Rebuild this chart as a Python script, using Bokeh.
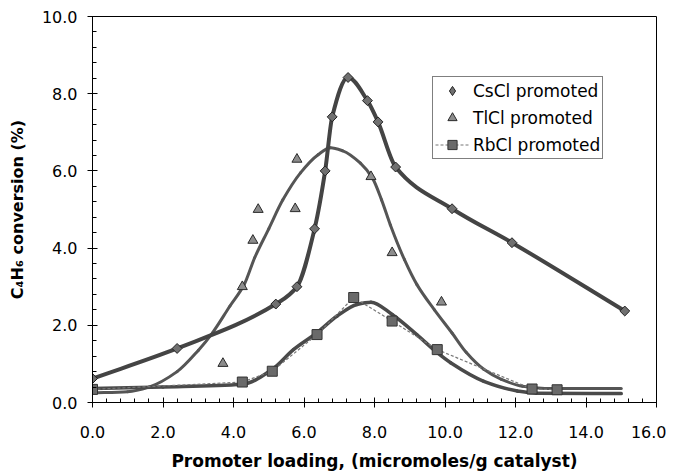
import numpy as np
from bokeh.plotting import figure
from bokeh.models import (ColumnDataSource, Legend, LegendItem, SingleIntervalTicker,
                          PrintfTickFormatter)
from bokeh.embed import file_html
from bokeh.resources import INLINE

# ---- data ----
cs_x = [0.0, 2.4, 5.2, 5.8, 6.3, 6.6, 6.8, 7.25, 7.8, 8.1, 8.6, 10.2, 11.9, 15.1]
cs_y = [0.62, 1.4, 2.55, 3.0, 4.5, 6.0, 7.4, 8.42, 7.82, 7.27, 6.1, 5.02, 4.14, 2.37]

tl_x = [3.7, 4.25, 4.55, 4.7, 5.75, 5.8, 7.9, 8.5, 9.9]
tl_y = [1.01, 3.0, 4.2, 5.0, 5.02, 6.3, 5.85, 3.88, 2.6]

tl_fit_x = [0.0, 1.0, 1.6, 2.4, 3.0, 3.4, 3.9, 4.3, 4.6, 5.0, 5.4, 5.9, 6.4, 6.75, 7.1,
            7.6, 7.95, 8.2, 8.45, 8.85, 9.2, 9.7, 10.2, 10.6, 11.1, 11.6, 12.2, 13.0, 15.0]
tl_fit_y = [0.25, 0.28, 0.4, 0.8, 1.35, 1.8, 2.5, 3.05, 3.75, 4.5, 5.25, 5.95, 6.42, 6.6, 6.52,
            6.2, 5.8, 5.25, 4.6, 3.7, 3.06, 2.4, 1.8, 1.3, 0.86, 0.6, 0.42, 0.36, 0.36]

rb_x = [0.0, 4.25, 5.1, 6.37, 7.41, 8.5, 9.78, 12.47, 13.18]
rb_y = [0.34, 0.53, 0.81, 1.76, 2.72, 2.11, 1.37, 0.35, 0.33]

rb_fit_x = [0.0, 2.0, 4.25, 5.1, 5.7, 6.37, 6.94, 7.5, 7.9, 8.5, 9.2, 9.78, 10.16, 11.1,
            12.05, 12.6, 15.0]
rb_fit_y = [0.36, 0.4, 0.47, 0.86, 1.37, 1.81, 2.24, 2.54, 2.6, 2.28, 1.76, 1.29, 1.03, 0.55,
            0.3, 0.24, 0.23]

labels = ["CsCl promoted", "TlCl promoted", "RbCl promoted"]


def smooth_segments(xs, ys):
    """Monotone cubic (PCHIP) segments expressed as Bezier control points."""
    xs = np.asarray(xs, float)
    ys = np.asarray(ys, float)
    h = np.diff(xs)
    d = np.diff(ys) / h
    n = len(xs)
    m = np.zeros(n)
    m[0], m[-1] = d[0], d[-1]
    for i in range(1, n - 1):
        if d[i - 1] * d[i] <= 0:
            m[i] = 0.0
        else:
            w1 = 2 * h[i] + h[i - 1]
            w2 = h[i] + 2 * h[i - 1]
            m[i] = (w1 + w2) / (w1 / d[i - 1] + w2 / d[i])
    return ColumnDataSource(dict(
        x0=xs[:-1], y0=ys[:-1], x1=xs[1:], y1=ys[1:],
        cx0=xs[:-1] + h / 3, cy0=ys[:-1] + m[:-1] * h / 3,
        cx1=xs[1:] - h / 3, cy1=ys[1:] - m[1:] * h / 3))


p = figure(width=666, height=474, x_range=(0, 16), y_range=(0, 10),
           output_backend="svg", toolbar_location=None,
           min_border_left=92, min_border_right=10, min_border_top=16, min_border_bottom=72)

p.xgrid.grid_line_color = None
p.ygrid.grid_line_color = None
p.outline_line_color = "black"
p.outline_line_width = 1
p.background_fill_color = "white"
p.border_fill_color = "white"

p.xaxis.ticker = SingleIntervalTicker(interval=2, num_minor_ticks=5)
p.yaxis.ticker = SingleIntervalTicker(interval=2, num_minor_ticks=5)
p.xaxis.formatter = PrintfTickFormatter(format="%.1f")
p.yaxis.formatter = PrintfTickFormatter(format="%.1f")

for ax in (p.xaxis[0], p.yaxis[0]):
    ax.axis_line_color = "black"
    ax.major_tick_line_color = "black"
    ax.minor_tick_line_color = "black"
    ax.major_tick_in = 5
    ax.major_tick_out = 5
    ax.minor_tick_in = 4
    ax.minor_tick_out = 0
    ax.major_label_text_font = "DejaVu Sans"
    ax.major_label_text_font_size = "16px"
    ax.major_label_text_color = "black"
    ax.axis_label_text_font = "DejaVu Sans"
    ax.axis_label_text_font_style = "bold"
    ax.axis_label_text_color = "black"

p.xaxis.major_label_standoff = 18
p.yaxis.major_label_standoff = 10
p.xaxis.axis_label = "Promoter loading, (micromoles/g catalyst)"
p.xaxis.axis_label_text_font_size = "17px"
p.xaxis.axis_label_standoff = 10
p.yaxis.axis_label = "C\u2084H\u2086 conversion (%)"
p.yaxis.axis_label_text_font_size = "16px"
p.yaxis.axis_label_standoff = 12

# fitted curves
p.bezier(x0="x0", y0="y0", x1="x1", y1="y1", cx0="cx0", cy0="cy0", cx1="cx1", cy1="cy1",
         source=smooth_segments(tl_fit_x, tl_fit_y), line_color="#555555", line_width=3,
         line_cap="round")
p.bezier(x0="x0", y0="y0", x1="x1", y1="y1", cx0="cx0", cy0="cy0", cx1="cx1", cy1="cy1",
         source=smooth_segments(rb_fit_x, rb_fit_y), line_color="#4a4a4a", line_width=3.5,
         line_cap="round")
rb_dash = p.line(rb_x, rb_y, line_color="#777777", line_width=1.2, line_dash="3 2")
p.bezier(x0="x0", y0="y0", x1="x1", y1="y1", cx0="cx0", cy0="cy0", cx1="cx1", cy1="cy1",
         source=smooth_segments(cs_x, cs_y), line_color="#444444", line_width=4,
         line_cap="round")

# markers
tl_sc = p.scatter(tl_x, tl_y, marker="triangle", size=10, fill_color="#8c8c8c",
                  line_color="#2a2a2a", line_width=1)
rb_sc = p.scatter(rb_x, rb_y, marker="square", size=10, fill_color="#6a6a6a",
                  line_color="#333333", line_width=1)
cs_sc = p.scatter(cs_x, cs_y, marker="square", angle=np.pi / 4, size=7,
                  fill_color="#707070", line_color="#222222", line_width=1)
# legend swatch for the rotated-square (diamond) markers (not drawn in the plot: NaN)
cs_key = p.scatter(x=[np.nan], y=[np.nan], marker="diamond", size=11,
                   fill_color="#707070", line_color="#222222", line_width=1)

legend = Legend(items=[LegendItem(label=labels[0], renderers=[cs_key]),
                       LegendItem(label=labels[1], renderers=[tl_sc]),
                       LegendItem(label=labels[2], renderers=[rb_dash, rb_sc])],
                location=(340, 243))
legend.label_text_font = "DejaVu Sans"
legend.label_text_font_size = "17px"
legend.label_text_color = "black"
legend.border_line_color = "black"
legend.border_line_width = 1
legend.background_fill_alpha = 1
legend.padding = 2
legend.spacing = 4
legend.margin = 0
legend.glyph_width = 34
legend.glyph_height = 23
legend.label_height = 23
legend.label_standoff = 4
p.add_layout(legend)

open("out.html", "w").write(file_html(p, INLINE))
